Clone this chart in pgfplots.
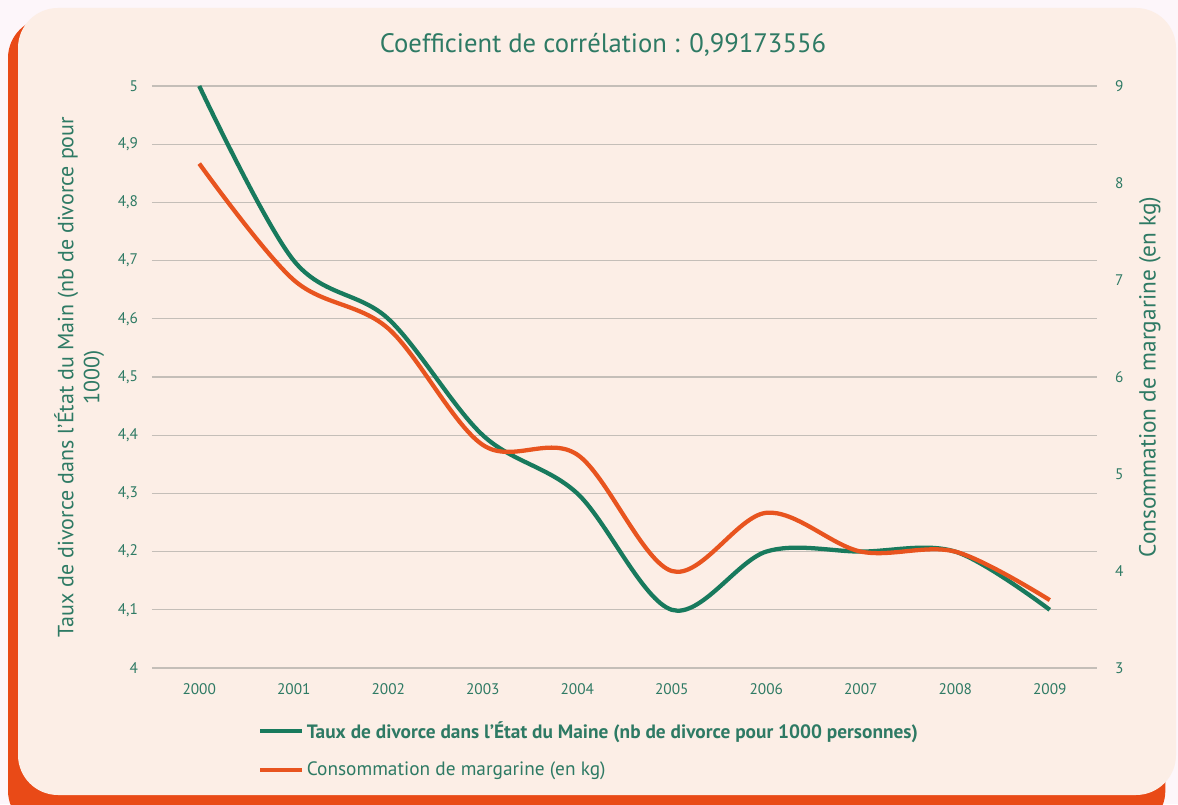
\documentclass[border=0pt]{standalone}
\usepackage{fontspec}
\setmainfont{PT Sans}
\usepackage{pgfplots}
\pgfplotsset{compat=1.18}

\definecolor{bgpeach}{HTML}{FCEEE6}
\definecolor{outerbg}{HTML}{FDF6FA}
\definecolor{shadoworange}{HTML}{E94A17}
\definecolor{divgreen}{HTML}{187A5D}
\definecolor{margorange}{HTML}{E8541F}
\definecolor{txtgreen}{HTML}{2E7A64}
\definecolor{gridgray}{HTML}{C4BEB8}

\begin{document}
\begin{tikzpicture}
\useasboundingbox (0pt,0pt) rectangle (883.5pt,603pt);
\fill[outerbg] (0pt,0pt) rectangle (883.5pt,603pt);
\begin{scope}
\clip (0pt,0pt) rectangle (883.5pt,603pt);
\fill[shadoworange, rounded corners=30pt] (6pt,-20pt) rectangle (874pt,589.5pt);
\fill[bgpeach, rounded corners=30pt] (13.5pt,6.75pt) rectangle (882pt,597pt);
\end{scope}

\node[font=\fontsize{20}{22}\selectfont, text=txtgreen] at (452.25pt,569.25pt) {Coefficient de corrélation : 0,99173556};

\begin{axis}[
  at={(114pt,102pt)}, anchor=south west,
  scale only axis, width=708.75pt, height=436.5pt,
  xmin=-0.5, xmax=9.5, ymin=4, ymax=5,
  xtick={0,1,2,3,4,5,6,7,8,9},
  xticklabels={2000,2001,2002,2003,2004,2005,2006,2007,2008,2009},
  ytick={4,4.1,4.2,4.3,4.4,4.5,4.6,4.7,4.8,4.9,5},
  ymajorgrids, grid style={gridgray, line width=0.9pt},
  axis line style={draw=none},
  major tick length=0pt,
  /pgf/number format/assume math mode=true,
  tick label style={font=\fontsize{11.5}{13}\selectfont, text=txtgreen},
  yticklabel style={xshift=-7pt, /pgf/number format/.cd, use comma, fixed, precision=1},
  xticklabel style={yshift=-8pt},
  every axis y label/.style={at={(axis description cs:-0.077,0.5)}, rotate=90, anchor=center},
  ylabel style={align=center, font=\fontsize{16.5}{19.5}\selectfont, text=txtgreen},
  ylabel={Taux de divorce dans l'État du Main (nb de divorce pour\\1000)},
]
\addplot[divgreen, line width=3.2pt, smooth, tension=0.55] coordinates {
(0,5.0) (1,4.7) (2,4.6) (3,4.4) (4,4.3) (5,4.1) (6,4.2) (7,4.2) (8,4.2) (9,4.1)
};
\end{axis}

\begin{axis}[
  at={(114pt,102pt)}, anchor=south west,
  scale only axis, width=708.75pt, height=436.5pt,
  xmin=-0.5, xmax=9.5, ymin=3, ymax=9,
  axis x line=none,
  axis y line*=right,
  axis line style={draw=none},
  ytick={3,4,5,6,7,8,9},
  major tick length=0pt,
  /pgf/number format/assume math mode=true,
  tick label style={font=\fontsize{11.5}{13}\selectfont, text=txtgreen},
  yticklabel style={xshift=10pt},
  every axis y label/.style={at={(axis description cs:1.056,0.5)}, rotate=90, anchor=center},
  ylabel style={font=\fontsize{17.5}{20}\selectfont, text=txtgreen},
  ylabel={Consommation de margarine (en kg)},
  legend style={at={(axis description cs:0.112,-0.087)}, anchor=north west,
    draw=none, fill=none, font=\fontsize{14.5}{17}\selectfont, text=txtgreen,
    row sep=12pt, inner sep=0pt},
  legend cell align=left,
  legend image code/.code={\draw[#1, line width=3pt] (0pt,0pt) -- (31.5pt,0pt);},
]
\addlegendimage{divgreen}
\addlegendentry{\textbf{Taux de divorce dans l'État du Maine (nb de divorce pour 1000 personnes)}}
\addplot[margorange, line width=3.2pt, smooth, tension=0.55] coordinates {
(0,8.2) (1,7.0) (2,6.5) (3,5.3) (4,5.2) (5,4.0) (6,4.6) (7,4.2) (8,4.2) (9,3.7)
};
\addlegendentry{Consommation de margarine (en kg)}
\end{axis}
\end{tikzpicture}
\end{document}
